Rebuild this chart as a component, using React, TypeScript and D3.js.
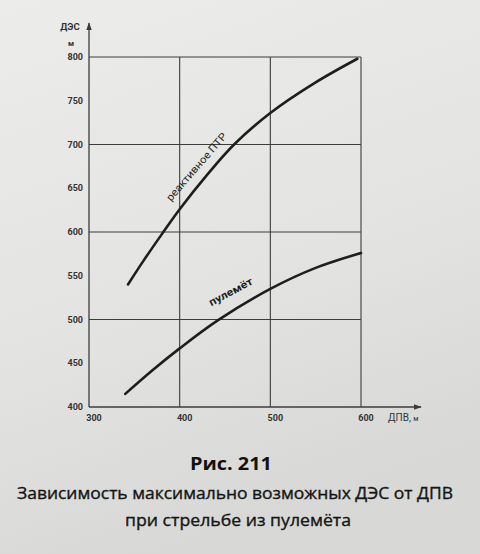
import React from "react";
import * as d3 from "d3";

const xTicks = [300, 400, 500, 600];
const yTicks = [400, 450, 500, 550, 600, 650, 700, 750, 800];
const xGrid = [400, 500, 600];
const yGrid = [500, 600, 700, 800];

const reactiveX = [343, 360, 380, 400, 430, 460, 500, 550, 596];
const reactiveY = [540, 567, 597, 626, 665, 700, 736, 771, 798];
const mgX = [340, 370, 400, 442, 500, 550, 600];
const mgY = [415, 442, 467, 499, 535, 559, 576];

const reactiveLabel = "реактивное ПТР";
const mgLabel = "пулемёт";
const title = "Рис. 211";
const caption1 = "Зависимость максимально возможных ДЭС от ДПВ";
const caption2 = "при стрельбе из пулемёта";

const W = 480;
const H = 554;

export default function App() {
  const x = d3.scaleLinear().domain([300, 600]).range([89, 361]);
  const y = d3.scaleLinear().domain([400, 800]).range([407, 57]);
  const line = d3
    .line<[number, number]>()
    .x((d) => x(d[0]))
    .y((d) => y(d[1]))
    .curve(d3.curveCatmullRom.alpha(0.5));
  const reactive = reactiveX.map((v, i) => [v, reactiveY[i]] as [number, number]);
  const mg = mgX.map((v, i) => [v, mgY[i]] as [number, number]);
  const gridColor = "#3c3c3c";
  const ink = "#1e1e1e";
  const tickFont = "'Liberation Sans Narrow', 'Roboto', 'Liberation Sans', sans-serif";
  const capFont = "'Open Sans', 'DejaVu Sans', sans-serif";

  const rLx = x(429), rLy = y(665);
  const mLx = x(465), mLy = y(515);

  return (
    <svg
      width={W}
      height={H}
      style={{ position: "absolute", left: 0, top: 0, display: "block" }}
    >
      <defs>
        <linearGradient id="paper" x1="0" y1="0" x2="0.3" y2="1">
          <stop offset="0" stopColor="#ececea" />
          <stop offset="0.6" stopColor="#e3e4e2" />
          <stop offset="1" stopColor="#d8d9d7" />
        </linearGradient>
        <marker id="arr" viewBox="0 0 10 10" refX="9" refY="5" markerWidth="7" markerHeight="6" orient="auto">
          <path d="M0,1.5 L10,5 L0,8.5 Z" fill={gridColor} />
        </marker>
      </defs>
      <rect x={0} y={0} width={W} height={H} fill="url(#paper)" />

      {/* grid */}
      {yGrid.map((v) => (
        <line key={"h" + v} x1={x(300)} x2={x(600)} y1={y(v)} y2={y(v)} stroke={gridColor} strokeWidth={1.1} />
      ))}
      {xGrid.map((v) => (
        <line key={"v" + v} x1={x(v)} x2={x(v)} y1={y(400)} y2={y(800)} stroke={gridColor} strokeWidth={1.1} />
      ))}
      {/* axes */}
      <line x1={x(300)} x2={x(300)} y1={y(400)} y2={y(800) - 34} stroke={gridColor} strokeWidth={1.3} markerEnd="url(#arr)" />
      <line x1={x(300)} x2={x(600) + 60} y1={y(400)} y2={y(400)} stroke={gridColor} strokeWidth={1.3} markerEnd="url(#arr)" />

      {/* tick labels */}
      {yTicks.map((v) => (
        <text key={"yt" + v} x={x(300) - 6} y={y(v) + 3} textAnchor="end" fontSize={9} fontWeight="bold" fontFamily={tickFont} fill="#333">
          {v}
        </text>
      ))}
      {xTicks.map((v) => (
        <text key={"xt" + v} x={x(v) + 5} y={y(400) + 14} textAnchor="middle" fontSize={9} fontWeight="bold" fontFamily={tickFont} fill="#333">
          {v}
        </text>
      ))}
      <text x={70} y={30} textAnchor="middle" fontSize={9.5} fontWeight="bold" fontFamily={tickFont} fill="#333">ДЭС</text>
      <text x={71} y={46} textAnchor="middle" fontSize={8} fontWeight="bold" fontFamily={tickFont} fill="#333">м</text>
      <text x={388} y={421} fontSize={10} fontFamily={tickFont} fill="#333">ДПВ, <tspan fontSize={7}>м</tspan></text>

      {/* curves */}
      <path d={line(reactive) || ""} fill="none" stroke={ink} strokeWidth={2.6} strokeLinecap="round" />
      <path d={line(mg) || ""} fill="none" stroke={ink} strokeWidth={2.6} strokeLinecap="round" />

      <text
        transform={`translate(${rLx},${rLy}) rotate(-49)`}
        y={-9}
        textAnchor="middle"
        fontSize={10.5}
        fontFamily={tickFont}
        fill={ink}
        textLength={86}
        lengthAdjust="spacingAndGlyphs"
      >
        {reactiveLabel}
      </text>
      <text
        transform={`translate(${mLx},${mLy}) rotate(-28)`}
        y={-13}
        textAnchor="middle"
        fontSize={10.5}
        fontWeight="bold"
        fontFamily={tickFont}
        fill={ink}
        textLength={48}
        lengthAdjust="spacingAndGlyphs"
      >
        {mgLabel}
      </text>

      {/* caption */}
      <text x={231} y={470} textAnchor="middle" fontSize={18} fontWeight="bold" fontFamily={capFont} fill="#111" textLength={82} lengthAdjust="spacingAndGlyphs">
        {title}
      </text>
      <text x={235} y={499} textAnchor="middle" fontSize={15.5} fontFamily={capFont} fill="#151515" stroke="#151515" strokeWidth={0.35} textLength={436} lengthAdjust="spacingAndGlyphs">
        {caption1}
      </text>
      <text x={238} y={526} textAnchor="middle" fontSize={15.5} fontFamily={capFont} fill="#151515" stroke="#151515" strokeWidth={0.35} textLength={226} lengthAdjust="spacingAndGlyphs">
        {caption2}
      </text>
    </svg>
  );
}
